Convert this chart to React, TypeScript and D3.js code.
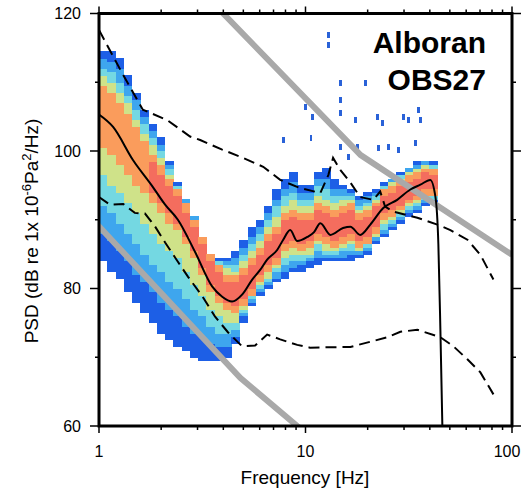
import React from 'react';
import * as d3 from 'd3';

// ---- PDF heat-map columns (frequency bin edges, Hz) ----
const binEdges = [1.0, 1.096, 1.202, 1.318, 1.445, 1.585, 1.738, 1.905, 2.089, 2.291, 2.512, 2.754, 3.02, 3.311, 3.631, 3.981, 4.365, 4.786, 5.248, 5.754, 6.31, 6.918, 7.586, 8.318, 9.12, 10.0, 10.96, 12.02, 13.18, 14.45, 15.85, 17.38, 19.05, 20.89, 22.91, 25.12, 27.54, 30.2, 33.11, 36.31, 39.81, 43.65];
// upper / lower extent of coloured cells per column (dB)
const pdfTop = [114.7, 114.4, 113.5, 111.1, 108.6, 106.0, 104.0, 101.9, 98.7, 95.5, 92.9, 90.4, 87.4, 85.2, 84.5, 84.5, 85.6, 87.1, 88.8, 90.0, 92.2, 94.6, 95.8, 97.0, 95.1, 95.1, 97.0, 97.6, 95.8, 95.1, 94.4, 93.6, 93.9, 94.6, 95.4, 96.1, 97.0, 97.6, 98.3, 98.7, 98.4];
const pdfBottom = [83.9, 82.7, 81.3, 79.5, 77.9, 76.5, 75.0, 73.6, 72.6, 71.5, 70.8, 70.1, 69.7, 69.4, 69.4, 70.0, 71.8, 75.2, 77.7, 78.8, 79.8, 80.8, 81.7, 82.3, 82.7, 83.2, 83.6, 83.8, 83.8, 83.9, 84.2, 84.5, 85.1, 86.4, 87.5, 88.3, 89.3, 90.3, 91.2, 91.9, 92.5];
// most probable level per column (dB)
const pdfMode = [105.0, 104.0, 102.6, 100.9, 99.2, 97.7, 96.1, 94.4, 92.8, 91.5, 89.4, 87.1, 84.8, 82.2, 80.6, 79.5, 79.1, 80.1, 81.9, 83.5, 85.1, 86.4, 88.2, 88.8, 88.2, 88.5, 89.9, 89.1, 88.8, 89.4, 89.7, 88.5, 89.1, 90.4, 92.2, 92.8, 93.5, 94.4, 94.9, 95.7, 95.5];
// half width of the high-probability core (dB)
const pdfCore = [4.6, 4.6, 4.4, 4.4, 4.1, 3.8, 3.6, 3.4, 3.2, 3.0, 2.9, 2.8, 2.7, 2.7, 2.7, 2.7, 2.7, 2.7, 2.7, 2.7, 2.7, 2.7, 2.7, 2.7, 2.7, 2.7, 2.7, 2.7, 2.7, 2.7, 2.7, 2.4, 2.4, 2.3, 2.3, 2.2, 2.2, 2.1, 2.1, 2.0, 2.0];
// highest colour level reached in the column (4 = orange, 5 = red)
const pdfHot = [4, 4, 4, 4, 4, 4, 5, 5, 5, 5, 5, 5, 5, 5, 5, 5, 5, 5, 5, 5, 5, 5, 5, 5, 5, 5, 5, 5, 5, 5, 5, 5, 5, 5, 5, 5, 5, 5, 5, 5, 5];

// ---- sparse high outliers ----
const outFreq = [12.9, 12.9, 14.7, 14.7, 19.5, 9.97, 10.8, 10.6, 14.7, 17.4, 22.3, 23.5, 29.8, 31.5, 35.2, 36.0, 14.7, 16.1, 17.8, 22.5, 25.2, 28.1, 34.0, 7.8];
const outDb = [116.9, 115.4, 109.9, 107.4, 109.9, 106.4, 105.0, 101.9, 105.5, 104.5, 105.0, 104.1, 105.0, 104.5, 106.0, 104.5, 100.6, 99.2, 100.6, 100.5, 100.6, 100.2, 101.2, 101.6];

// ---- median (solid) ----
const medianFreq = [1.0, 1.17, 1.46, 1.81, 2.09, 2.41, 2.92, 3.53, 3.95, 4.41, 4.93, 5.52, 6.03, 6.52, 7.29, 7.8, 8.43, 9.12, 10.2, 11.0, 11.8, 13.2, 15.2, 16.5, 18.4, 20.6, 23.8, 27.8, 32.2, 36.0, 40.2, 42.6, 44.0, 45.0, 46.0];
const medianDb = [105.3, 103.5, 98.7, 94.9, 92.2, 90.0, 85.3, 80.3, 78.8, 78.1, 79.1, 81.3, 82.7, 84.2, 85.6, 87.1, 88.5, 86.9, 87.5, 88.2, 89.5, 87.8, 88.8, 89.0, 87.8, 89.3, 91.7, 92.9, 94.4, 95.1, 95.8, 93.3, 86.4, 74.0, 60.0];

// ---- upper / lower percentile (dashed) ----
const upperFreq = [1.0, 1.28, 1.63, 2.14, 2.76, 3.09, 3.95, 4.99, 6.24, 7.54, 9.42, 11.8, 12.9, 13.6, 14.7, 16.5, 18.4, 21.3, 23.0, 24.3, 26.6, 34.8, 43.5, 50.3, 60.8, 70.3, 81.3];
const upperDb = [117.6, 111.6, 106.0, 104.5, 102.1, 101.6, 100.2, 99.0, 97.7, 95.8, 94.6, 93.9, 96.5, 99.0, 97.3, 95.4, 93.3, 92.9, 94.1, 91.9, 91.2, 90.3, 89.3, 88.5, 87.1, 84.9, 81.3];
const lowerFreq = [1.0, 1.13, 1.31, 1.49, 1.67, 1.87, 2.09, 2.41, 2.7, 3.16, 3.65, 4.22, 4.93, 5.7, 6.52, 7.54, 9.12, 10.5, 16.5, 24.9, 28.8, 34.8, 45.0, 52.0, 60.8, 70.3, 81.3];
const lowerDb = [93.3, 92.2, 92.3, 91.0, 90.9, 89.0, 86.7, 83.9, 81.7, 78.9, 75.9, 73.6, 71.6, 71.7, 73.3, 72.6, 71.8, 71.4, 71.5, 72.9, 73.7, 74.0, 72.9, 71.6, 69.7, 67.8, 64.6];

// ---- reference noise models (grey) ----
const highModelFreq = [3.6, 18.5, 100];
const highModelDb = [121.4, 99.4, 84.9];
const lowModelFreq = [0.9, 4.83, 9.12, 11.8];
const lowModelDb = [90.5, 67.0, 60.0, 57.3];

// ---- axes ----
const yTicks = [60, 70, 80, 90, 100, 110, 120];
const yLabels = [60, 80, 100, 120];
const xTicks = [1, 2, 3, 4, 5, 6, 7, 8, 9, 10, 20, 30, 40, 50, 60, 70, 80, 90, 100];
const xLabels = [1, 10, 100];

const levelColors = ['#1d5fe6', '#3ea6ee', '#74d8e2', '#cfe289', '#fa9c5c', '#f46d5e'];

const FONT = '"Liberation Sans", Arial, Helvetica, sans-serif';

export default function App() {
  const L = 99, R = 512, T = 13.5, B = 426;
  const x = d3.scaleLog().domain([1, 100]).range([L, R]);
  const y = d3.scaleLinear().domain([60, 120]).range([B, T]);

  const cells: { x: number; y: number; w: number; h: number; c: string }[] = [];
  for (let i = 0; i < pdfTop.length; i++) {
    const m = pdfMode[i];
    const c = pdfCore[i];
    for (let v = 60; v < 120; v += 0.5) {
      const vc = v + 0.25;
      if (vc < pdfBottom[i] || vc > pdfTop[i]) continue;
      const d = vc - m;
      const ad = Math.abs(d);
      let lvl: number;
      if (ad <= c) {
        const tc = ad / c;
        lvl = pdfHot[i] === 5 ? (tc < 0.62 ? 5 : 4) : 4;
      } else {
        const ext = d > 0 ? pdfTop[i] - m - c : m - pdfBottom[i] - c;
        const s = ext > 0 ? (ad - c) / ext : 1;
        lvl = s < 0.25 ? 3 : s < 0.5 ? 2 : s < 0.75 ? 1 : 0;
      }
      const x0 = x(binEdges[i]);
      const x1 = x(binEdges[i + 1]);
      cells.push({ x: x0, w: x1 - x0 + 0.4, y: y(v + 0.5), h: y(v) - y(v + 0.5) + 0.4, c: levelColors[lvl] });
    }
  }

  const line = (fs: number[], ds: number[], curve = d3.curveLinear) =>
    d3.line<number>().x((_, k) => x(fs[k])).y((dv) => y(dv)).curve(curve)(ds) || '';

  const labelX = (t: number) => Math.min(x(t), 507);

  return (
    <svg width={523} height={495} style={{ position: 'absolute', left: 0, top: 0, background: '#fff' }} fontFamily={FONT}>
      <defs>
        <clipPath id="plot">
          <rect x={L} y={T} width={R - L} height={B - T} />
        </clipPath>
      </defs>
      <rect x={0} y={0} width={523} height={495} fill="#fff" />
      <g clipPath="url(#plot)">
        <g shapeRendering="crispEdges">
          {cells.map((c, k) => (
            <rect key={k} x={c.x} y={c.y} width={c.w} height={c.h} fill={c.c} />
          ))}
          {outFreq.map((f, k) => (
            <rect key={'o' + k} x={x(f) - 1} y={y(outDb[k]) - 3} width={2.5} height={6} fill="#2a62d8" />
          ))}
        </g>
        <path d={line(highModelFreq, highModelDb)} fill="none" stroke="#a9a9a9" strokeWidth={6} />
        <path d={line(lowModelFreq, lowModelDb)} fill="none" stroke="#a9a9a9" strokeWidth={6} />
        <path d={line(upperFreq, upperDb)} fill="none" stroke="#000" strokeWidth={2} strokeDasharray="11,6" />
        <path d={line(lowerFreq, lowerDb)} fill="none" stroke="#000" strokeWidth={2} strokeDasharray="11,6" />
        <path d={line(medianFreq, medianDb, d3.curveMonotoneX)} fill="none" stroke="#000" strokeWidth={2} />
      </g>

      {/* ticks */}
      <g stroke="#000" strokeWidth={1.5}>
        {yTicks.map((t) => {
          const len = t % 20 === 0 ? 9 : 4;
          return (
            <g key={'y' + t}>
              <line x1={L - len} x2={L} y1={y(t)} y2={y(t)} />
              <line x1={R} x2={R + len} y1={y(t)} y2={y(t)} />
            </g>
          );
        })}
        {xTicks.map((t) => {
          const major = xLabels.includes(t);
          const len = major ? 7 : 4;
          return (
            <g key={'x' + t}>
              <line x1={x(t)} x2={x(t)} y1={B} y2={B + len} />
              <line x1={x(t)} x2={x(t)} y1={T} y2={T - len} />
            </g>
          );
        })}
      </g>

      <rect x={L} y={T} width={R - L} height={B - T} fill="none" stroke="#000" strokeWidth={3} />

      {/* tick labels */}
      <g fontSize={16} fill="#000">
        {yLabels.map((t) => (
          <text key={'yl' + t} x={81} y={y(t)} dy="0.36em" textAnchor="end">
            {t}
          </text>
        ))}
        {xLabels.map((t) => (
          <text key={'xl' + t} x={labelX(t)} y={457} textAnchor="middle">
            {t}
          </text>
        ))}
      </g>

      <text x={305} y={484} textAnchor="middle" fontSize={19} fill="#000">
        Frequency [Hz]
      </text>
      <text transform={`translate(38,231) rotate(-90)`} textAnchor="middle" fontSize={19} fill="#000">
        PSD (dB re 1x 10
        <tspan dy={-7} fontSize={13}>-6</tspan>
        <tspan dy={7}>Pa</tspan>
        <tspan dy={-7} fontSize={13}>2</tspan>
        <tspan dy={7}>/Hz)</tspan>
      </text>

      <g fontSize={30} fontWeight="bold" textAnchor="end" fill="#000">
        <text x={486} y={53}>Alboran</text>
        <text x={486} y={90}>OBS27</text>
      </g>
    </svg>
  );
}
